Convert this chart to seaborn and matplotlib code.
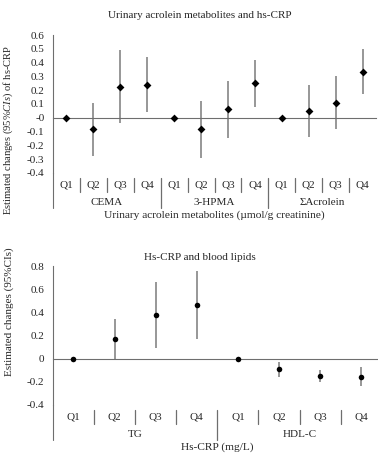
import numpy as np
import pandas as pd
import matplotlib
matplotlib.use('Agg')
import matplotlib.pyplot as plt
import matplotlib.transforms as mtrans
import seaborn as sns

sns.set_style('white')
plt.rcParams['font.family'] = ['Liberation Serif', 'DejaVu Serif']
plt.rcParams['mathtext.fontset'] = 'custom'
plt.rcParams['mathtext.rm'] = 'Liberation Serif'
plt.rcParams['mathtext.it'] = 'Liberation Serif:italic'

quart = ['Q1', 'Q2', 'Q3', 'Q4']

# top panel: acrolein metabolites vs hs-CRP
top_groups = ['CEMA', '3-HPMA', 'ΣAcrolein']
top_est = [0, -0.08, 0.22, 0.24, 0, -0.08, 0.06, 0.25, 0, 0.05, 0.11, 0.33]
top_lo = [np.nan, -0.28, -0.04, 0.04, np.nan, -0.29, -0.15, 0.08, np.nan, -0.14, -0.08, 0.17]
top_hi = [np.nan, 0.11, 0.49, 0.44, np.nan, 0.12, 0.27, 0.42, np.nan, 0.24, 0.30, 0.50]

# bottom panel: hs-CRP vs blood lipids
bot_groups = ['TG', 'HDL-C']
bot_est = [0, 0.17, 0.38, 0.46, 0, -0.09, -0.15, -0.16]
bot_lo = [np.nan, 0.0, 0.09, 0.17, np.nan, -0.16, -0.20, -0.24]
bot_hi = [np.nan, 0.34, 0.66, 0.76, np.nan, -0.03, -0.10, -0.07]

axc = '#6e6e6e'
fig = plt.figure(figsize=(3.78, 4.55), dpi=100)


def panel(rect, groups, est, lo, hi, ylim, yticks, marker, msize,
          title, title_y, ylabel, ylab_y, ylab_fs, xlabel):
    ax = fig.add_axes(rect)
    n = len(est)
    df = pd.DataFrame({'x': np.arange(n), 'est': est, 'lo': lo, 'hi': hi})
    d = df.dropna()
    ax.vlines(d['x'], d['lo'], d['hi'], color='#7a7a7a', lw=1.1, zorder=2)
    sns.scatterplot(data=df, x='x', y='est', marker=marker, s=msize, color='black',
                    edgecolor='black', linewidth=0, ax=ax, zorder=3, legend=False)
    ax.set_xlim(-0.5, n - 0.5)
    ax.set_ylim(*ylim)
    ax.set_yticks(yticks)
    ax.set_yticklabels([f'{v:g}' for v in yticks], fontsize=8)
    for s in ['top', 'right']:
        ax.spines[s].set_visible(False)
    ax.spines['bottom'].set_position(('data', 0))
    ax.spines['bottom'].set_color(axc)
    ax.spines['left'].set_color(axc)
    ax.set_xticks(np.arange(0.5, n - 0.5, 1))
    ax.set_xticklabels([])
    ax.tick_params(axis='x', direction='out', length=3, color=axc, width=0.8)
    ax.tick_params(axis='y', direction='out', length=3, color=axc, width=0.8, pad=3)
    ax.set_xlabel('')
    ax.set_ylabel(ylabel, fontsize=ylab_fs)
    ax.yaxis.set_label_coords(-0.118, ylab_y)

    tr = mtrans.blended_transform_factory(ax.transData, ax.transAxes)
    bottom = -0.255
    ax.plot([0, 0], [0, bottom], transform=ax.transAxes, color=axc, lw=0.8, clip_on=False)
    for i in range(n):
        ax.text(i, -0.087, quart[i % 4], transform=tr, ha='center', va='center', fontsize=8)
    for i in range(1, n):
        if i % 4 == 0:
            ax.plot([i - 0.5, i - 0.5], [-0.035, bottom], transform=tr, color=axc,
                    lw=0.9, clip_on=False)
        else:
            ax.plot([i - 0.5, i - 0.5], [-0.035, -0.14], transform=tr, color=axc,
                    lw=0.9, clip_on=False)
    for g, name in enumerate(groups):
        ax.text(g * 4 + 1.5, -0.215, name, transform=tr, ha='center', va='center', fontsize=8)
    ax.text(0.5, -0.305, xlabel, transform=ax.transAxes, ha='center', va='center', fontsize=8.2)
    fig.text(0.528, title_y, title, ha='center', va='center', fontsize=8)
    return ax


panel([0.140, 0.620, 0.855, 0.303], top_groups, top_est, top_lo, top_hi,
      (-0.4, 0.6), np.round(np.arange(-0.4, 0.61, 0.1), 1), 'D', 16,
      'Urinary acrolein metabolites and hs-CRP', 0.967,
      'Estimated changes (95%$\\mathit{CIs}$) of hs-CRP', 0.31, 7.6,
      'Urinary acrolein metabolites (µmol/g creatinine)')

panel([0.140, 0.110, 0.870, 0.305], bot_groups, bot_est, bot_lo, bot_hi,
      (-0.4, 0.8), np.round(np.arange(-0.4, 0.81, 0.2), 1), 'o', 16,
      'Hs-CRP and blood lipids', 0.435,
      'Estimated changes (95%CIs)', 0.67, 8,
      'Hs-CRP (mg/L)')

fig.savefig('out.png', dpi=100)
